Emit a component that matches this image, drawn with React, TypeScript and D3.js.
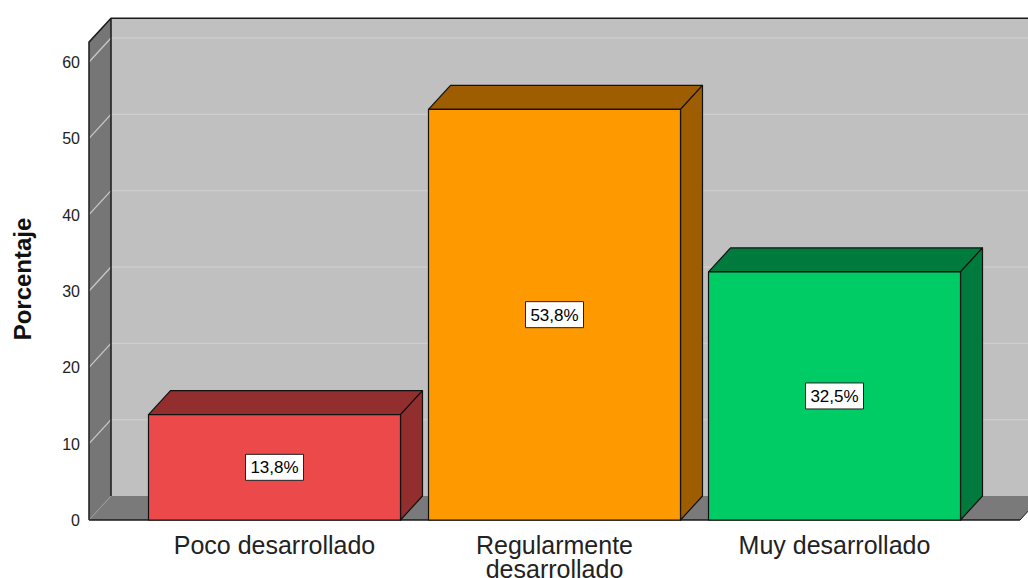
import * as d3 from 'd3'

const categories = ['Poco desarrollado', 'Regularmente desarrollado', 'Muy desarrollado']
const values = [13.8, 53.8, 32.5]
const frontColors = ['#ec4a4a', '#ff9900', '#00cc66']
const sideColors = ['#922e2e', '#9e5d00', '#007a3d']
const yTicks = [0, 10, 20, 30, 40, 50, 60]

const W = 1028
const H = 578
const DX = 22
const DY = -24

export default function App() {
  const y = d3.scaleLinear().domain([0, 60]).range([520, 62])
  const x = d3.scaleBand<string>().domain(categories).range([89, 1020]).paddingInner(0.1).paddingOuter(0.2125)

  const x0 = 89
  const x1 = 1020
  const yBase = y(0)
  const yTop = y(62.6)

  const fmt = (v: number) => d3.format('.1f')(v).replace('.', ',') + '%'

  const wrap = (s: string) => (s === 'Regularmente desarrollado' ? ['Regularmente', 'desarrollado'] : [s])

  return (
    <svg width={W} height={H} style={{ position: 'absolute', left: 0, top: 0, fontFamily: 'Liberation Sans, Arial, sans-serif' }}>
      <rect width={W} height={H} fill="#ffffff" />
      {/* back wall */}
      <rect x={x0 + DX} y={yTop + DY} width={x1 - x0 + 10} height={yBase - yTop} fill="#c0c0c0" />
      {/* left side wall */}
      <polygon
        points={`${x0},${yTop} ${x0 + DX},${yTop + DY} ${x0 + DX},${yBase + DY} ${x0},${yBase}`}
        fill="#767676"
      />
      {/* floor */}
      <polygon
        points={`${x0},${yBase} ${x1},${yBase} ${x1 + DX},${yBase + DY} ${x0 + DX},${yBase + DY}`}
        fill="#7a7a7a"
      />
      {/* gridlines */}
      {yTicks.filter(t => t > 0).map(t => (
        <g key={t}>
          <line x1={x0 + DX} x2={W} y1={y(t) + DY} y2={y(t) + DY} stroke="#cdcdcd" strokeWidth={1.3} />
          <line x1={x0} x2={x0 + DX} y1={y(t)} y2={y(t) + DY} stroke="#c8c8c8" strokeWidth={1.3} />
        </g>
      ))}
      {/* frame lines */}
      <polyline
        points={`${x0},${yBase} ${x0},${yTop} ${x0 + DX},${yTop + DY} ${W},${yTop + DY}`}
        fill="none"
        stroke="#1a1a1a"
        strokeWidth={1.5}
      />
      <line x1={x0 + DX} x2={x0 + DX} y1={yTop + DY} y2={yBase + DY} stroke="#1a1a1a" strokeWidth={1.5} />
      <line x1={x0} x2={x0 + DX} y1={yBase} y2={yBase + DY} stroke="#9a9a9a" strokeWidth={1} />
      <line x1={x0} x2={x1} y1={yBase} y2={yBase} stroke="#1a1a1a" strokeWidth={1.5} />
      <line x1={x1} x2={x1 + DX} y1={yBase} y2={yBase + DY} stroke="#1a1a1a" strokeWidth={1} />

      {/* bars */}
      {categories.map((c, i) => {
        const bx = x(c)!
        const bw = x.bandwidth()
        const by = y(values[i])
        const cy = (by + yBase) / 2
        const label = fmt(values[i])
        return (
          <g key={c} stroke="#111" strokeWidth={1.2} strokeLinejoin="round">
            <polygon
              points={`${bx},${by} ${bx + DX},${by + DY} ${bx + bw + DX},${by + DY} ${bx + bw},${by}`}
              fill={sideColors[i]}
            />
            <polygon
              points={`${bx + bw},${by} ${bx + bw + DX},${by + DY} ${bx + bw + DX},${yBase + DY} ${bx + bw},${yBase}`}
              fill={sideColors[i]}
            />
            <rect x={bx} y={by} width={bw} height={yBase - by} fill={frontColors[i]} />
            <rect x={bx + bw / 2 - 29} y={cy - 13} width={58} height={26} fill="#fff" stroke="#222" strokeWidth={1} />
            <text x={bx + bw / 2} y={cy + 6} textAnchor="middle" fontSize={17} fill="#000" stroke="none">
              {label}
            </text>
          </g>
        )
      })}

      {/* y tick labels */}
      {yTicks.map(t => (
        <text key={t} x={80} y={y(t) + 6} textAnchor="end" fontSize={16} fill="#222">
          {t}
        </text>
      ))}
      <text
        transform={`translate(31, ${279}) rotate(-90)`}
        textAnchor="middle"
        fontSize={24}
        fontWeight="bold"
        fill="#111"
      >
        Porcentaje
      </text>

      {/* category labels */}
      {categories.map(c => (
        <text key={c} x={x(c)! + x.bandwidth() / 2} y={554} textAnchor="middle" fontSize={25} fill="#222">
          {wrap(c).map((line, j) => (
            <tspan key={j} x={x(c)! + x.bandwidth() / 2} dy={j === 0 ? 0 : 24}>
              {line}
            </tspan>
          ))}
        </text>
      ))}
    </svg>
  )
}
